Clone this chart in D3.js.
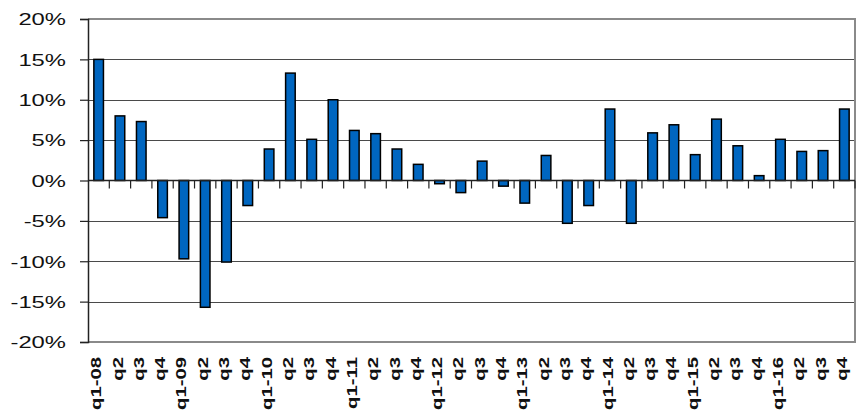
<!DOCTYPE html>
<html>
<head>
<meta charset="utf-8">
<script src="https://cdn.jsdelivr.net/npm/d3@7"></script>
<style>
  html, body { margin: 0; padding: 0; background: #fff; }
  svg { display: block; }
</style>
</head>
<body>
<svg id="chart" width="856" height="415"></svg>
<script>
const categories = ["q1-08","q2","q3","q4","q1-09","q2","q3","q4","q1-10","q2","q3","q4",
  "q1-11","q2","q3","q4","q1-12","q2","q3","q4","q1-13","q2","q3","q4",
  "q1-14","q2","q3","q4","q1-15","q2","q3","q4","q1-16","q2","q3","q4"];
const values = [15.0, 8.0, 7.3, -4.6, -9.7, -15.7, -10.1, -3.1, 3.9, 13.3, 5.1, 10.0,
  6.2, 5.8, 3.9, 2.0, -0.4, -1.5, 2.4, -0.7, -2.8, 3.1, -5.3, -3.1,
  8.85, -5.3, 5.9, 6.9, 3.2, 7.6, 4.3, 0.6, 5.1, 3.6, 3.7, 8.85];
const yTicks = [-20, -15, -10, -5, 0, 5, 10, 15, 20];

const svg = d3.select("#chart");
const L = 88, R = 855, T = 19, B = 342;

const x = d3.scaleBand().domain(d3.range(categories.length)).range([L, R])
  .paddingInner(0.55).paddingOuter(0.275);
const y = d3.scaleLinear().domain([-20, 20]).range([B, T]);
const step = x.step();

// gridlines
svg.append("g").selectAll("line").data(yTicks.filter(t => t !== 0 && t !== 20 && t !== -20))
  .join("line")
  .attr("x1", L).attr("x2", R)
  .attr("y1", d => Math.round(y(d)) + 0.5).attr("y2", d => Math.round(y(d)) + 0.5)
  .attr("stroke", "#4a4a4a").attr("stroke-width", 1);

// plot border (top, right, bottom)
svg.append("path")
  .attr("d", `M${L},${T}H${R}V${B}H${L}`)
  .attr("fill", "none").attr("stroke", "#8a8a8a").attr("stroke-width", 2);

// bars
svg.append("g").selectAll("rect").data(values).join("rect")
  .attr("x", (d, i) => x(i))
  .attr("width", x.bandwidth())
  .attr("y", d => y(Math.max(0, d)))
  .attr("height", d => Math.abs(y(d) - y(0)))
  .attr("fill", "#0066c0")
  .attr("stroke", "#000").attr("stroke-width", 1.5);

// zero line
svg.append("line").attr("x1", L).attr("x2", R)
  .attr("y1", y(0)).attr("y2", y(0))
  .attr("stroke", "#222").attr("stroke-width", 1.3);

// category tick marks on zero line at band boundaries
const bounds = d3.range(categories.length + 1).map(i => L + i * step);
svg.append("g").selectAll("line").data(bounds.slice(1)).join("line")
  .attr("x1", d => d).attr("x2", d => d)
  .attr("y1", y(0)).attr("y2", y(0) + 8)
  .attr("stroke", "#222").attr("stroke-width", 1.2);

// y axis
const yAxis = svg.append("g").attr("transform", `translate(${L},0)`)
  .call(d3.axisLeft(y).tickValues(yTicks).tickFormat(d => d + "%").tickSizeOuter(0).tickSize(8));
yAxis.select(".domain").attr("stroke", "#222").attr("stroke-width", 1.5);
yAxis.selectAll(".tick line").attr("stroke", "#222").attr("stroke-width", 1.2);
yAxis.selectAll(".tick text")
  .attr("x", null)
  .attr("dy", "0.34em")
  .attr("transform", "translate(-22,0) scale(1.4,1)")
  .attr("font-family", "Liberation Sans, Arial, sans-serif")
  .attr("font-size", 17)
  .attr("fill", "#111");

// x labels
svg.append("g").selectAll("text").data(categories).join("text")
  .attr("transform", (d, i) => `translate(${x(i) + x.bandwidth() / 2 - 2.5},357) rotate(-90) scale(1.4,1)`)
  .attr("text-anchor", "end")
  .attr("dy", "0.35em")
  .attr("font-family", "Liberation Sans, Arial, sans-serif")
  .attr("font-weight", "bold")
  .attr("font-size", 14.5)
  .attr("fill", "#111")
  .text(d => d);
</script>
</body>
</html>
